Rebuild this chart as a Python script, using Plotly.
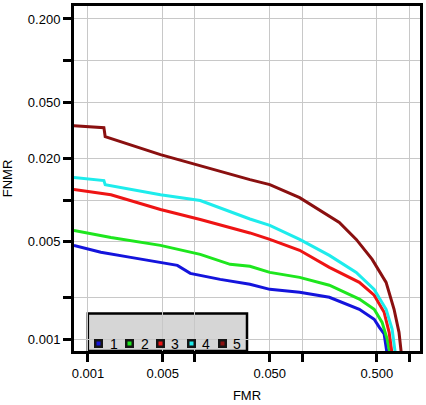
import plotly.graph_objects as go

# DET curves (FMR on x, FNMR on y, both log)
names = ['1', '2', '3', '4', '5']
colors = ['#1414dc', '#1ee61e', '#ee1414', '#1eecec', '#8a1010']

fmr_1 = [0.00074, 0.00132, 0.00251, 0.00476, 0.00685, 0.00904, 0.0172, 0.0326, 0.050, 0.095, 0.180, 0.343, 0.472, 0.526, 0.585, 0.624, 0.64]
fnmr_1 = [0.00472, 0.00421, 0.00387, 0.00357, 0.00339, 0.00297, 0.00269, 0.00248, 0.00228, 0.00217, 0.00200, 0.00164, 0.00139, 0.00122, 0.00109, 0.00078, 0.0006]

fmr_2 = [0.00074, 0.00164, 0.00476, 0.0112, 0.0213, 0.0326, 0.050, 0.095, 0.180, 0.343, 0.472, 0.560, 0.624, 0.665, 0.68]
fnmr_2 = [0.00604, 0.00538, 0.00472, 0.00407, 0.00345, 0.00334, 0.00302, 0.00278, 0.00244, 0.00194, 0.00164, 0.00132, 0.00100, 0.00078, 0.0006]

fmr_3 = [0.00074, 0.00164, 0.00476, 0.0112, 0.0326, 0.050, 0.095, 0.180, 0.343, 0.472, 0.585, 0.651, 0.694, 0.72]
fnmr_3 = [0.0119, 0.0109, 0.00855, 0.00725, 0.0058, 0.00521, 0.00435, 0.00328, 0.00256, 0.00207, 0.00156, 0.00112, 0.00078, 0.0006]

fmr_4 = [0.00074, 0.00141, 0.00145, 0.00476, 0.0112, 0.0326, 0.050, 0.095, 0.180, 0.321, 0.472, 0.610, 0.694, 0.756, 0.78]
fnmr_4 = [0.0145, 0.0138, 0.0129, 0.0109, 0.00991, 0.0073, 0.00657, 0.00521, 0.00400, 0.00302, 0.00228, 0.00164, 0.00118, 0.00078, 0.0006]

fmr_5 = [0.00074, 0.00141, 0.00145, 0.00476, 0.0326, 0.050, 0.095, 0.223, 0.321, 0.452, 0.610, 0.724, 0.805, 0.859, 0.88]
fnmr_5 = [0.0342, 0.0331, 0.0285, 0.0212, 0.0140, 0.0129, 0.0104, 0.0069, 0.00521, 0.00374, 0.00256, 0.00164, 0.00112, 0.00078, 0.0006]

x_ticks = [0.001, 0.005, 0.01, 0.05, 0.1, 0.5, 1.0]
x_labels = ['0.001', '0.005', '', '0.050', '', '0.500', '']
y_ticks = [0.001, 0.002, 0.005, 0.01, 0.02, 0.05, 0.1, 0.2]
y_labels = ['0.001', '', '0.005', '', '0.020', '0.050', '', '0.200']

fmrs = [fmr_1, fmr_2, fmr_3, fmr_4, fmr_5]
fnmrs = [fnmr_1, fnmr_2, fnmr_3, fnmr_4, fnmr_5]

fig = go.Figure()
for nm, c, xs, ys in zip(names, colors, fmrs, fnmrs):
    fig.add_trace(go.Scatter(x=xs, y=ys, mode='lines', name=nm, line=dict(color=c, width=3),
                             showlegend=False, hoverinfo='skip'))

# grey legend box, built by hand (plotly's legend can't pack entries this tight)
fig.add_shape(type='rect', xref='paper', yref='paper', x0=0.04, x1=0.50, y0=0.0, y1=0.109,
              fillcolor='#d6d6d6', line=dict(color='black', width=2.5), layer='below')
for i, (nm, c) in enumerate(zip(names, colors)):
    xp = 0.072 + i * 0.089
    fig.add_annotation(xref='paper', yref='paper', x=xp, y=0.021, text='&nbsp;',
                       xanchor='center', yanchor='middle',
                       showarrow=False, font=dict(size=4), width=4, height=4,
                       bgcolor=c, bordercolor='#151515', borderwidth=2.5, borderpad=0)
    fig.add_annotation(xref='paper', yref='paper', x=xp + 0.043, y=0.021, text=nm,
                       xanchor='center', yanchor='middle',
                       showarrow=False, font=dict(size=14, color='black'))

axis_common = dict(type='log', showline=True, linewidth=3, linecolor='black', mirror=True,
                   ticks='outside', ticklen=8, tickwidth=2.5, tickcolor='black',
                   showgrid=True, gridcolor='#c8c8c8', gridwidth=1, zeroline=False,
                   tickfont=dict(size=13, color='black'))

fig.update_xaxes(range=[-3.13, 0.102], tickvals=x_ticks, ticktext=x_labels,
                 title=dict(text='FMR', font=dict(size=13, color='black'), standoff=12),
                 **axis_common)
fig.update_yaxes(range=[-3.085, -0.606], tickvals=y_ticks, ticktext=y_labels,
                 title=dict(text='FNMR', font=dict(size=13, color='black'), standoff=16),
                 **axis_common)

fig.update_layout(
    width=426, height=405,
    margin=dict(l=73, r=5, t=3, b=54),
    paper_bgcolor='white', plot_bgcolor='white',
    font=dict(family='Liberation Sans, Arial, sans-serif', size=13, color='black'),
    showlegend=False,
)

fig.write_html("out.html", config={'displayModeBar': False},
               post_script="document.body.style.margin='0';")
